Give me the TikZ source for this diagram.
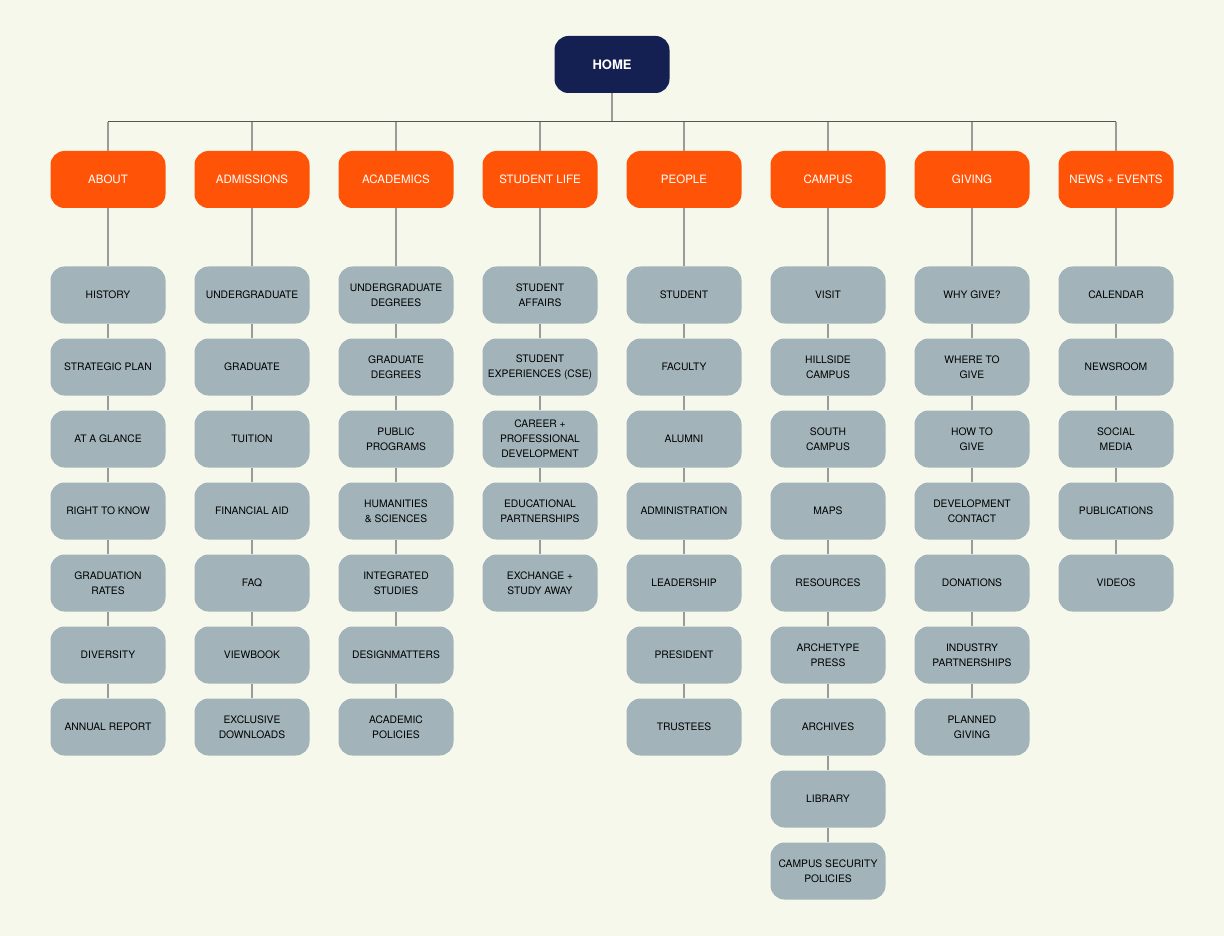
\documentclass[tikz,border=0pt]{standalone}
\usepackage{fontspec}
\setmainfont{TeX Gyre Heros}
\definecolor{bg}{HTML}{F7F8EC}
\definecolor{navy}{HTML}{141F52}
\definecolor{orng}{HTML}{FF5407}
\definecolor{slate}{HTML}{A2B4B9}
\definecolor{lgray}{HTML}{9A9A9A}
\definecolor{dgray}{HTML}{555555}
\tikzset{
  box/.style={rounded corners=14pt, minimum width=115pt, minimum height=57pt, align=center, inner sep=2pt},
  homebox/.style={box, fill=navy, text=white, font=\fontsize{13}{15}\selectfont\bfseries},
  catbox/.style={box, fill=orng, text=white, font=\fontsize{11.5}{14}\selectfont},
  kidbox/.style={box, fill=slate, text=black, font=\fontsize{10.3}{15}\selectfont},
  link/.style={draw=lgray, line width=1.5pt},
  bus/.style={draw=dgray, line width=1pt},
}
\newcommand\mkcol[3]{%
  \foreach \t [count=\i] in {#3} {%
    \node[kidbox] (c#1-\i) at (#2,{295+72*(\i-1)}) {\t};
    \ifnum\i=1
      \draw[link] (c#1) -- (c#1-1);
    \else
      \pgfmathtruncatemacro\p{\i-1}
      \draw[link] (c#1-\p) -- (c#1-\i);
    \fi
  }%
}
\begin{document}
\begin{tikzpicture}[x=1pt,y=-1pt]
\fill[bg] (0,0) rectangle (1224,936);
\useasboundingbox (0,0) rectangle (1224,936);
\node[homebox] (home) at (612,64.5) {HOME};
\coordinate (hb) at (612,122);
\draw[link] (home) -- (hb);
\foreach \j/\x/\name in {1/108/ABOUT, 2/252/ADMISSIONS, 3/396/ACADEMICS, 4/540/STUDENT LIFE, 5/684/PEOPLE, 6/828/CAMPUS, 7/972/GIVING, 8/1116/NEWS + EVENTS} {
  \node[catbox] (c\j) at (\x,179.5) {\name};
  \coordinate (b\j) at (\x,122);
  \draw[link] (b\j) -- (c\j);
}
\draw[bus] (b1) -- (b8);
\mkcol{1}{108}{HISTORY, STRATEGIC PLAN, AT A GLANCE, RIGHT TO KNOW, {GRADUATION\\RATES}, DIVERSITY, ANNUAL REPORT}
\mkcol{2}{252}{UNDERGRADUATE, GRADUATE, TUITION, FINANCIAL AID, FAQ, VIEWBOOK, {EXCLUSIVE\\DOWNLOADS}}
\mkcol{3}{396}{{UNDERGRADUATE\\DEGREES}, {GRADUATE\\DEGREES}, {PUBLIC\\PROGRAMS}, {HUMANITIES\\\& SCIENCES}, {INTEGRATED\\STUDIES}, DESIGNMATTERS, {ACADEMIC\\POLICIES}}
\mkcol{4}{540}{{STUDENT\\AFFAIRS}, {STUDENT\\EXPERIENCES (CSE)}, {CAREER +\\PROFESSIONAL\\DEVELOPMENT}, {EDUCATIONAL\\PARTNERSHIPS}, {EXCHANGE +\\STUDY AWAY}}
\mkcol{5}{684}{STUDENT, FACULTY, ALUMNI, ADMINISTRATION, LEADERSHIP, PRESIDENT, TRUSTEES}
\mkcol{6}{828}{VISIT, {HILLSIDE\\CAMPUS}, {SOUTH\\CAMPUS}, MAPS, RESOURCES, {ARCHETYPE\\PRESS}, ARCHIVES, LIBRARY, {CAMPUS SECURITY\\POLICIES}}
\mkcol{7}{972}{WHY GIVE?, {WHERE TO\\GIVE}, {HOW TO\\GIVE}, {DEVELOPMENT\\CONTACT}, DONATIONS, {INDUSTRY\\PARTNERSHIPS}, {PLANNED\\GIVING}}
\mkcol{8}{1116}{CALENDAR, NEWSROOM, {SOCIAL\\MEDIA}, PUBLICATIONS, VIDEOS}
\end{tikzpicture}
\end{document}
